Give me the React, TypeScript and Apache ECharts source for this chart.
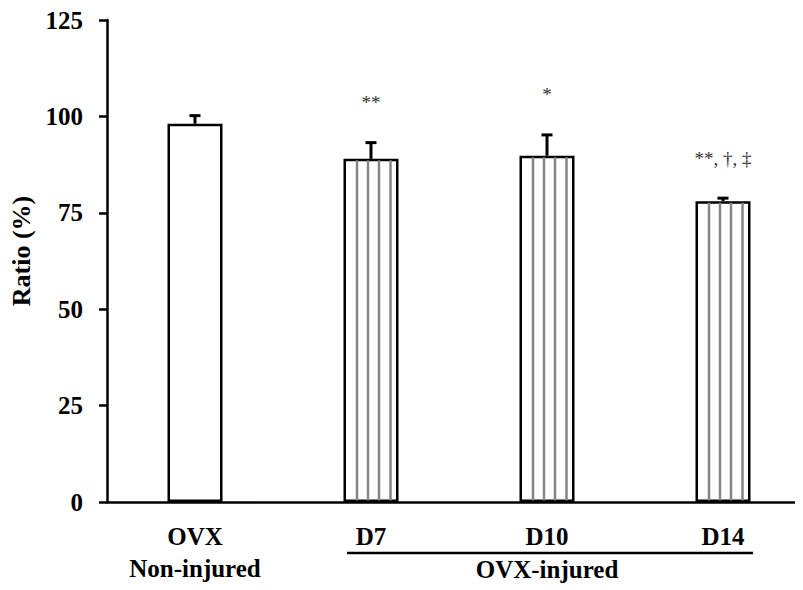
import React, { useEffect, useRef } from "react";
import * as echarts from "echarts";

const categories = ["OVX", "D7", "D10", "D14"];
const ratioValues = [98.1, 89.0, 89.8, 78.0];
const errorValues = [2.1, 4.2, 5.4, 0.8];
const annotations = ["", "**", "*", "**, \u2020, \u2021"];
const striped = [false, true, true, true];
const yTicks = [0, 25, 50, 75, 100, 125];
const groupLabel = "OVX-injured";
const firstSubLabel = "Non-injured";

const FONT = "'Liberation Serif', 'Times New Roman', serif";

export default function App() {
  const ref = useRef<HTMLDivElement>(null);
  useEffect(() => {
    if (!ref.current) return;
    const chart = echarts.init(ref.current, null, { renderer: "svg" });
    const BAR_W = 55;
    const stripeOffsets = [-14, -3, 8, 19.5];
    const option: any = {
      animation: false,
      grid: {
        left: 99,
        top: 12,
        width: 704,
        height: 482,
        containLabel: false,
        outerBoundsMode: "none",
      },
      xAxis: {
        type: "category",
        data: categories,
        axisLine: { lineStyle: { color: "#000", width: 2.5 } },
        axisTick: { show: false },
        axisLabel: {
          interval: 0,
          margin: 18,
          fontFamily: FONT,
          fontWeight: "bold",
          fontSize: 25,
          color: "#000",
          formatter: (v: string, i: number) =>
            i === 0 ? `{a|${v}}\n{a|${firstSubLabel}}` : `{a|${v}}\n{a| }`,
          rich: {
            a: { fontFamily: FONT, fontWeight: "bold", fontSize: 25, lineHeight: 32, color: "#000" },
          },
        },
      },
      yAxis: {
        type: "value",
        min: 0,
        max: 125,
        interval: 25,
        name: "Ratio (%)",
        nameLocation: "middle",
        nameGap: 70,
        nameTextStyle: {
          fontFamily: FONT,
          fontWeight: "bold",
          fontSize: 26,
          color: "#000",
          padding: [0, 0, 0, 20],
        },
        axisLine: { show: true, lineStyle: { color: "#000", width: 2.5 } },
        axisTick: { show: true, length: 8, lineStyle: { color: "#000", width: 2.5 } },
        axisLabel: {
          margin: 24,
          fontFamily: FONT,
          fontWeight: "bold",
          fontSize: 25,
          color: "#000",
          formatter: (v: number) => (yTicks.includes(v) ? String(v) : ""),
        },
        splitLine: { show: false },
      },
      series: [
        {
          type: "bar",
          data: ratioValues,
          barWidth: BAR_W,
          itemStyle: { color: "#fff", borderColor: "#000", borderWidth: 2.5 },
          z: 2,
        },
        {
          type: "custom",
          z: 3,
          data: ratioValues.map((v, i) => [i, v, errorValues[i], striped[i] ? 1 : 0]),
          renderItem: (params: any, api: any) => {
            const idx = api.value(0);
            const val = api.value(1);
            const err = api.value(2);
            const isStriped = api.value(3) === 1;
            const top = api.coord([idx, val]);
            const base = api.coord([idx, 0]);
            const capPt = api.coord([idx, val + err]);
            const children: any[] = [];
            if (isStriped) {
              stripeOffsets.forEach((o) => {
                children.push({
                  type: "line",
                  shape: { x1: top[0] + o, y1: top[1] + 1.5, x2: top[0] + o, y2: base[1] - 1.5 },
                  style: { stroke: "#858585", lineWidth: 2.5 },
                });
              });
            }
            children.push({
              type: "line",
              shape: { x1: top[0], y1: top[1], x2: top[0], y2: capPt[1] },
              style: { stroke: "#000", lineWidth: 3 },
            });
            children.push({
              type: "line",
              shape: { x1: top[0] - 5.5, y1: capPt[1], x2: top[0] + 5.5, y2: capPt[1] },
              style: { stroke: "#000", lineWidth: 3 },
            });
            const ann = annotations[idx];
            if (ann) {
              children.push({
                type: "text",
                x: top[0],
                y: capPt[1] - 40,
                style: {
                  text: ann,
                  fontFamily: FONT,
                  fontSize: 19,
                  fill: "#333",
                  align: "center",
                  verticalAlign: "middle",
                },
              });
            }
            return { type: "group", children };
          },
        },
      ],
    };
    chart.setOption(option);
    const d7 = chart.convertToPixel({ xAxisIndex: 0 }, "D7") as number;
    const d10 = chart.convertToPixel({ xAxisIndex: 0 }, "D10") as number;
    const d14 = chart.convertToPixel({ xAxisIndex: 0 }, "D14") as number;
    chart.setOption({
      graphic: [
        {
          type: "line",
          shape: { x1: d7 - 24, y1: 545, x2: d14 + 30, y2: 545 },
          style: { stroke: "#000", lineWidth: 2.5 },
        },
        {
          type: "text",
          x: d10,
          y: 561,
          style: {
            text: groupLabel,
            fontFamily: FONT,
            fontWeight: "bold",
            fontSize: 25,
            fill: "#000",
            align: "center",
            verticalAlign: "middle",
          },
        },
      ],
    });
    return () => chart.dispose();
  }, []);
  return (
    <div style={{ width: 795, height: 582, overflow: "hidden" }}>
      <div ref={ref} style={{ width: 810, height: 582 }} />
    </div>
  );
}
